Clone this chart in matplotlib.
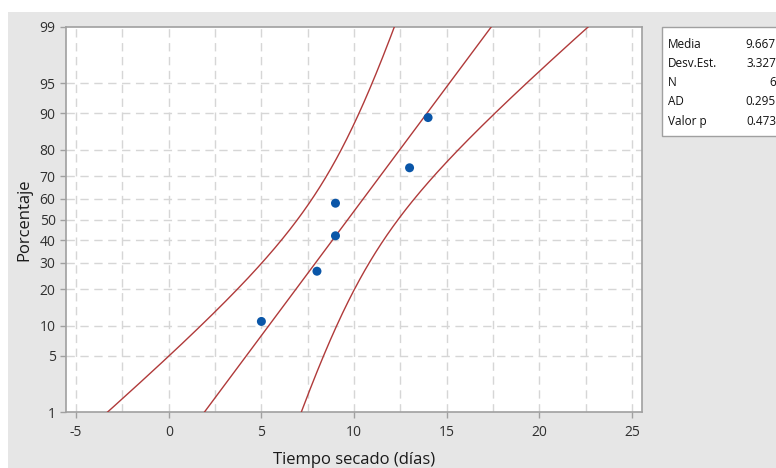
import numpy as np
import matplotlib
matplotlib.use("Agg")
import matplotlib.pyplot as plt
from statistics import NormalDist

# data
tiempo = [5, 8, 9, 9, 13, 14]
porcentaje = [10.9, 26.6, 42.2, 57.8, 73.4, 89.1]

y_ticks = [1, 5, 10, 20, 30, 40, 50, 60, 70, 80, 90, 95, 99]
x_ticks = [-5, 0, 5, 10, 15, 20, 25]

stat_labels = ["Media", "Desv.Est.", "N", "AD", "Valor p"]
stat_values = ["9.667", "3.327", "6", "0.295", "0.473"]

media = 9.667
desv = 3.327
n = 6
k_ci = 2.0  # multiplier of the confidence band

nd = NormalDist()
z = lambda p: nd.inv_cdf(p / 100.0)

plt.rcParams['font.family'] = ['Open Sans', 'DejaVu Sans']

fig = plt.figure(figsize=(7.76, 4.68), dpi=100)
fig.patch.set_facecolor('white')
# grey panel behind the graph
fig.patches.append(plt.Rectangle((8 / 776, 0), 1, 1 - 12 / 468, transform=fig.transFigure,
                                 facecolor='#e6e6e6', edgecolor='none', zorder=-10))

ax = fig.add_axes([66 / 776, 1 - 412 / 468, (642 - 66) / 776, (412 - 27) / 468])
ax.set_facecolor('white')

# fitted line and confidence band
zz = np.linspace(z(0.5), z(99.5), 400)
xfit = media + zz * desv
half = k_ci * desv * np.sqrt(1.0 / n + zz ** 2 / (2 * n))
line_col = '#b03a3a'
ax.plot(xfit, zz, color=line_col, lw=1.0, zorder=3)
ax.plot(xfit - half, zz, color=line_col, lw=1.0, zorder=3)
ax.plot(xfit + half, zz, color=line_col, lw=1.0, zorder=3)

ax.scatter(tiempo, [z(p) for p in porcentaje], s=42, color='#0a56a8', zorder=4,
           edgecolors='none')

ax.set_xlim(-5.55, 25.55)
ax.set_ylim(z(1), z(99))
ax.set_xticks(x_ticks)
ax.set_xticklabels([str(t) for t in x_ticks])
ax.set_yticks([z(p) for p in y_ticks])
ax.set_yticklabels([str(p) for p in y_ticks])

# dashed grid
grid_kw = dict(color='#d6d6d6', lw=1.0, ls=(0, (6, 4)), zorder=1)
for gx in np.arange(-5, 25.1, 2.5):
    ax.axvline(gx, **grid_kw)
for p in y_ticks[1:-1]:
    ax.axhline(z(p), **grid_kw)

for s in ax.spines.values():
    s.set_color('#a0a0a0')
    s.set_linewidth(1.2)
ax.tick_params(axis='both', colors='#a0a0a0', length=4, width=1, labelsize=10,
               labelcolor='#303030')
ax.tick_params(axis='x', pad=5)

ax.set_xlabel('Tiempo secado (días)', fontsize=12, color='#1a1a1a', labelpad=9)
ax.set_ylabel('Porcentaje', fontsize=12, color='#1a1a1a', labelpad=5)

# statistics box
fig.patches.append(plt.Rectangle((662 / 776, 1 - 136 / 468), 0.2, 109 / 468,
                                 transform=fig.transFigure, facecolor='white',
                                 edgecolor='#a0a0a0', lw=1.0, zorder=5))
for i, (lab, val) in enumerate(zip(stat_labels, stat_values)):
    yy = 1 - (44 + i * 19.3) / 468
    fig.text(668 / 776, yy, lab, fontsize=8.5, va='center', ha='left', color='#111111', zorder=6)
    fig.text(776 / 776, yy, val, fontsize=8.5, va='center', ha='right', color='#111111', zorder=6)

fig.savefig('out.png', dpi=100, facecolor=fig.get_facecolor())
